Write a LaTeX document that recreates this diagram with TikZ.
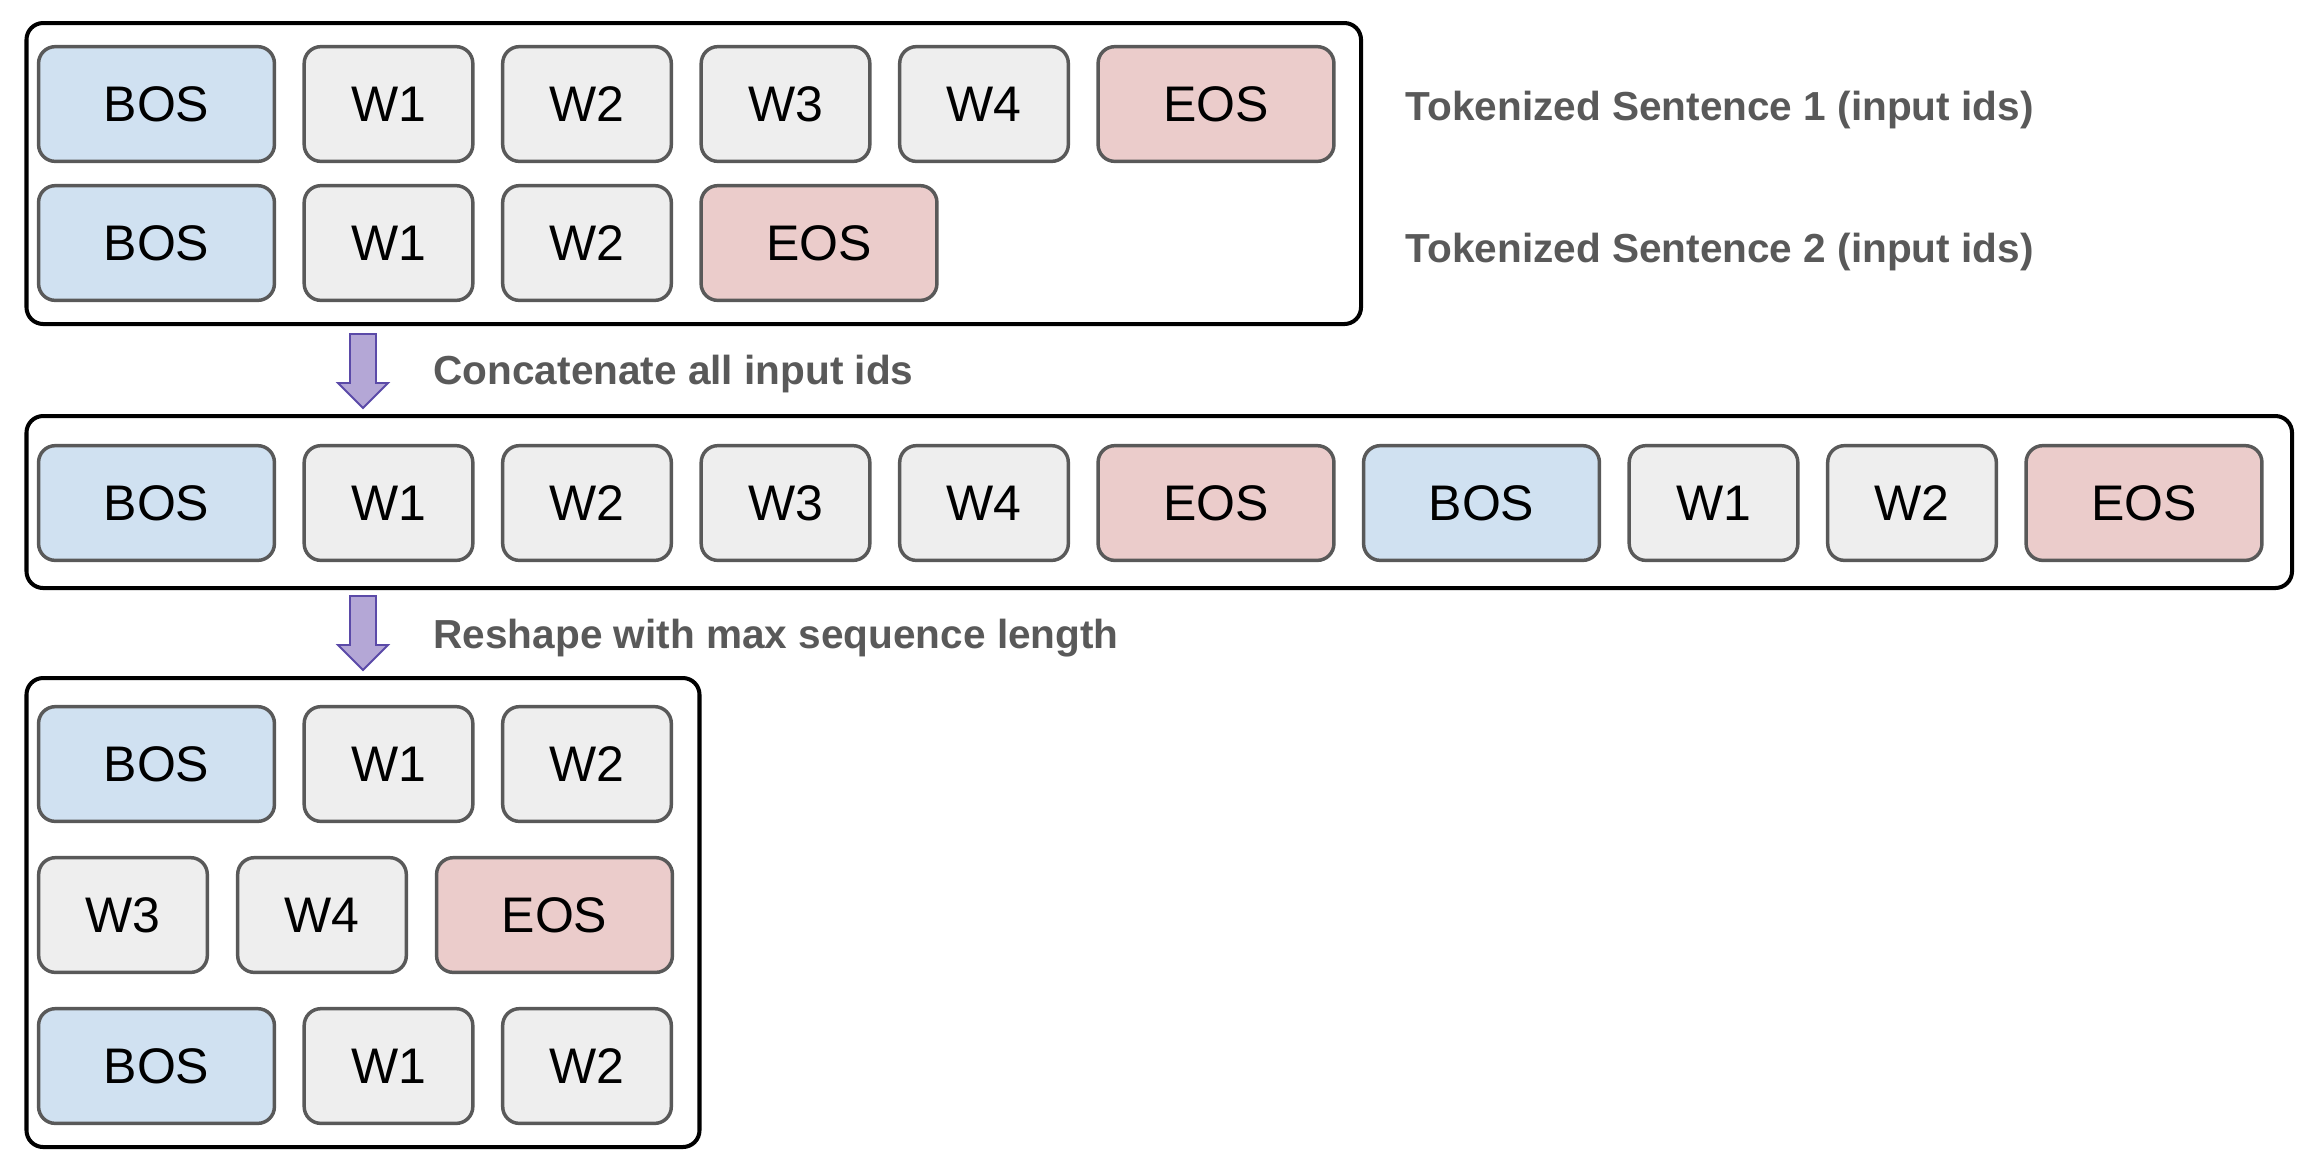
\documentclass[tikz,border=0pt]{standalone}
\usepackage{fontspec}
\setmainfont{Liberation Sans}
\usepackage{tikz}

\definecolor{bosfill}{HTML}{D0E1F1}
\definecolor{eosfill}{HTML}{EBCCCB}
\definecolor{wfill}{HTML}{EEEEEE}
\definecolor{tokline}{HTML}{595959}
\definecolor{arrfill}{HTML}{B4A7D6}
\definecolor{arrline}{HTML}{5B4AA8}

\tikzset{
  tok/.style={draw=tokline, line width=1.25pt, rounded corners=6pt, minimum height=41.3pt, inner sep=0pt, font=\fontsize{18}{20}\selectfont},
  wtok/.style={tok, fill=wfill, minimum width=60.7pt},
  bostok/.style={tok, fill=bosfill, minimum width=84.9pt},
  eostok/.style={tok, fill=eosfill, minimum width=84.9pt},
  groupbox/.style={draw=black, line width=1.45pt, rounded corners=6pt},
  caption/.style={anchor=base west, text=tokline, inner sep=0pt, font=\fontsize{14.6}{17}\bfseries\selectfont},
  blockarrow/.style={fill=arrfill, draw=arrline, line width=0.7pt, line join=miter}
}

\begin{document}
\begin{tikzpicture}[x=0.36pt,y=-0.36pt]
        \useasboundingbox (0,0) rectangle (2310,1164);
        % tokenized sentences
        \draw[groupbox] (26.5,23) rectangle (1361,324);
        \node[bostok] (aBOS) at (156.5,104) {BOS};
        \node[wtok] (aW1) at (388.5,104) {W1};
        \node[wtok] (aW2) at (587,104) {W2};
        \node[wtok] (aW3) at (785.5,104) {W3};
        \node[wtok] (aW4) at (984,104) {W4};
        \node[eostok] (aEOS) at (1216,104) {EOS};
        \node[bostok] (bBOS) at (156.5,243) {BOS};
        \node[wtok] (bW1) at (388.5,243) {W1};
        \node[wtok] (bW2) at (587,243) {W2};
        \node[eostok] (bEOS) at (819,243) {EOS};
        \node[caption] (capa) at (1405,120) {Tokenized Sentence 1 (input ids)};
        \node[caption] (capb) at (1405,262) {Tokenized Sentence 2 (input ids)};
        % concatenate
        \filldraw[blockarrow] (350,334) -- ++(26,0) -- ++(0,49) -- ++(12,0) -- ++(-25,25) -- ++(-25,-25) -- ++(12,0) -- cycle;
        \node[caption] (capc) at (433,384) {Concatenate all input ids};
        \draw[groupbox] (26.5,416) rectangle (2292,588);
        \node[bostok] (cBOS) at (156.5,503) {BOS};
        \node[wtok] (cW1) at (388.5,503) {W1};
        \node[wtok] (cW2) at (587,503) {W2};
        \node[wtok] (cW3) at (785.5,503) {W3};
        \node[wtok] (cW4) at (984,503) {W4};
        \node[eostok] (cEOS) at (1216,503) {EOS};
        \node[bostok] (cBOSb) at (1481.5,503) {BOS};
        \node[wtok] (cW1b) at (1713.5,503) {W1};
        \node[wtok] (cW2b) at (1912,503) {W2};
        \node[eostok] (cEOSb) at (2144,503) {EOS};
        % reshape
        \filldraw[blockarrow] (350,596) -- ++(26,0) -- ++(0,49) -- ++(12,0) -- ++(-25,25) -- ++(-25,-25) -- ++(12,0) -- cycle;
        \node[caption] (capd) at (433,648) {Reshape with max sequence length};
        \draw[groupbox] (26.5,678) rectangle (699.5,1147);
        \node[bostok] (dBOS) at (156.5,764) {BOS};
        \node[wtok] (dW1) at (388.5,764) {W1};
        \node[wtok] (dW2) at (587,764) {W2};
        \node[wtok] (eW3) at (123,915) {W3};
        \node[wtok] (eW4) at (322,915) {W4};
        \node[eostok] (eEOS) at (554.5,915) {EOS};
        \node[bostok] (fBOS) at (156.5,1066) {BOS};
        \node[wtok] (fW1) at (388.5,1066) {W1};
        \node[wtok] (fW2) at (587,1066) {W2};
    \end{tikzpicture}
\end{document}
